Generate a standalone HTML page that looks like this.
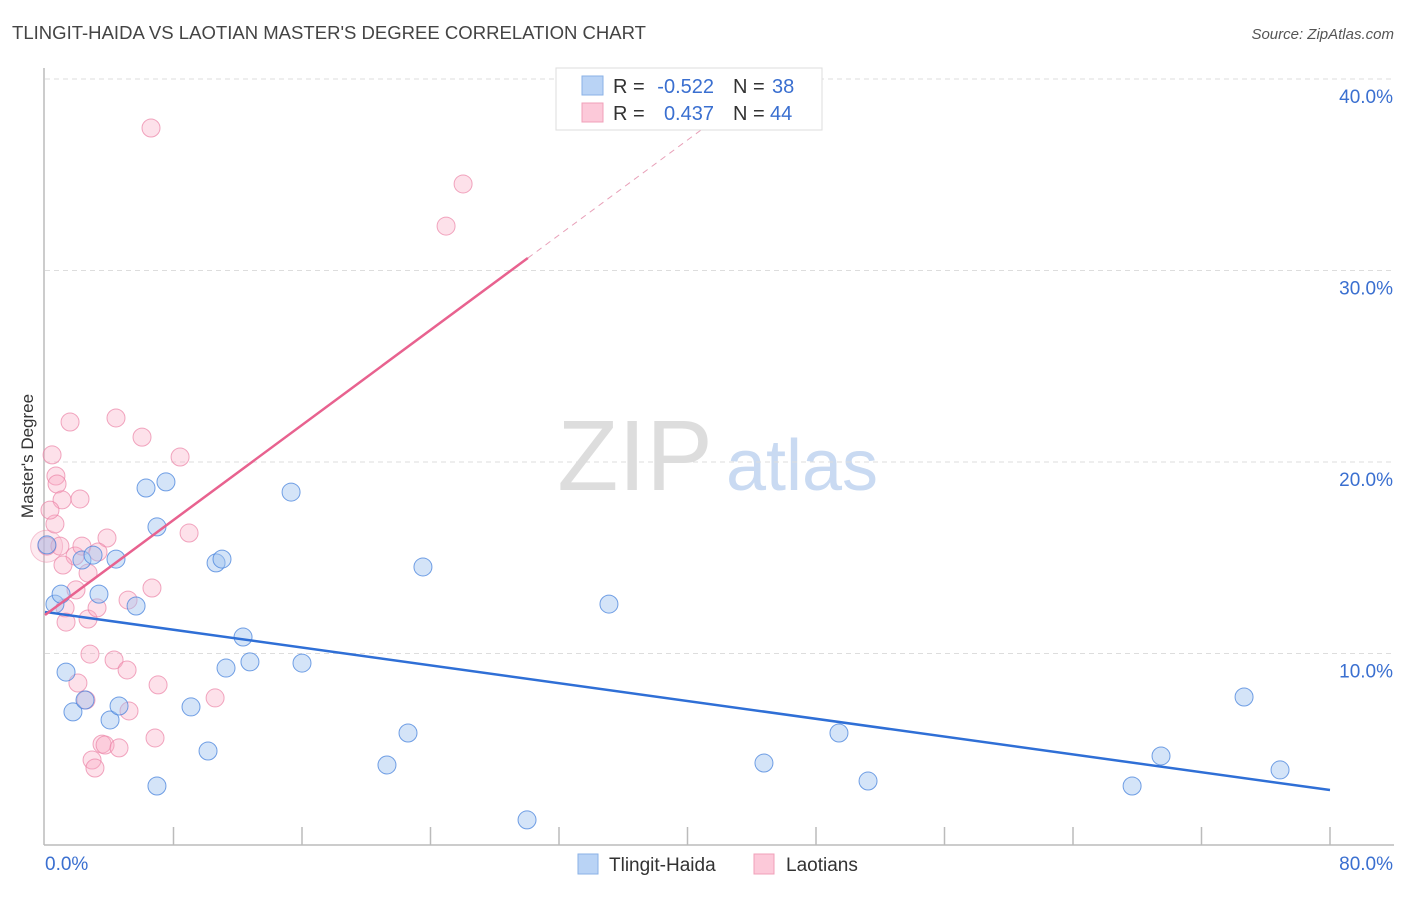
<!DOCTYPE html>
<html><head><meta charset="utf-8"><style>
body{margin:0;background:#fff;font-family:"Liberation Sans",sans-serif}
svg text{font-family:"Liberation Sans",sans-serif}
</style></head><body>
<svg id="c" width="1406" height="892" xmlns="http://www.w3.org/2000/svg">
<text x="12" y="39" font-size="18.5" fill="#444" textLength="634" lengthAdjust="spacingAndGlyphs">TLINGIT-HAIDA VS LAOTIAN MASTER'S DEGREE CORRELATION CHART</text>
<text x="1394" y="39" font-size="15" fill="#555" text-anchor="end" font-style="italic">Source: ZipAtlas.com</text>
<text transform="translate(33,456) rotate(-90)" font-size="17" fill="#333" text-anchor="middle">Master's Degree</text>
<g><text x="635" y="490" font-size="100" fill="#ddd" text-anchor="middle" font-family="Liberation Serif">ZIP</text><text x="802" y="490" font-size="72" fill="#c9daf2" text-anchor="middle">atlas</text></g>
<g id="grid"></g><g id="axes"></g><g id="marks"></g>
<g>
<rect x="556" y="68" width="266" height="62" fill="#fff" stroke="#ddd"/>
<rect x="582" y="76" width="21" height="19" fill="#b9d3f5" stroke="#8ab1e6"/>
<rect x="582" y="103" width="21" height="19" fill="#fcc9d9" stroke="#f0a0b9"/>
<text x="613" y="93" font-size="20" fill="#333">R =</text>
<text x="714" y="93" font-size="20" fill="#3a6fd0" text-anchor="end">-0.522</text>
<text x="733" y="93" font-size="20" fill="#333">N =</text>
<text x="772" y="93" font-size="20" fill="#3a6fd0">38</text>
<text x="613" y="120" font-size="20" fill="#333">R =</text>
<text x="714" y="120" font-size="20" fill="#3a6fd0" text-anchor="end">0.437</text>
<text x="733" y="120" font-size="20" fill="#333">N =</text>
<text x="770" y="120" font-size="20" fill="#3a6fd0">44</text>
</g>
<g>
<rect x="578" y="854" width="20" height="20" fill="#b9d3f5" stroke="#8ab1e6"/>
<text x="609" y="871" font-size="19" fill="#333">Tlingit-Haida</text>
<rect x="754" y="854" width="20" height="20" fill="#fcc9d9" stroke="#f0a0b9"/>
<text x="786" y="871" font-size="19" fill="#333">Laotians</text>
</g>
</svg>
<script>
const blueX=[0.12,0.62,1.0,1.31,1.74,2.30,2.49,2.99,3.36,4.05,4.42,4.61,5.67,6.29,6.97,6.97,7.53,9.09,10.15,10.65,11.02,11.27,12.33,12.76,15.32,16.0,21.29,22.6,23.53,30.01,35.11,44.76,49.43,51.24,67.68,69.48,74.65,76.89];
const blueY=[15.67,12.58,13.1,9.03,6.95,14.88,7.57,15.14,13.1,6.53,14.93,7.26,12.48,18.64,16.61,3.08,18.96,7.21,4.91,14.73,14.93,9.24,10.86,9.56,18.43,9.5,4.18,5.85,14.52,1.31,12.58,4.28,5.85,3.34,3.08,4.65,7.73,3.92];
const pinkX=[0.44,0.68,0.75,0.62,0.12,1.06,0.93,1.25,1.31,1.56,1.87,1.93,2.18,2.30,2.55,2.68,2.68,2.80,2.93,3.11,3.24,3.55,3.74,3.86,4.30,4.42,4.61,5.11,5.17,5.23,6.04,6.60,6.66,6.85,7.04,8.41,8.97,10.59,24.97,26.03,2.05,1.12,0.31,3.30];
const pinkY=[20.37,19.27,18.85,16.76,15.61,18.02,15.61,12.38,11.64,22.09,15.09,13.32,18.07,15.61,7.57,14.2,11.8,9.97,4.44,4.02,12.38,5.27,5.22,16.03,9.66,22.3,5.07,9.14,12.79,7.0,21.3,37.44,13.42,5.59,8.36,20.26,16.29,7.68,32.32,34.52,8.46,14.62,17.49,15.3];
const blueTrend=[0,12.17,80,2.87];
const pinkTrend=[0,12.01,30.06,30.65,45.1];
const yTicks=[10,20,30,40];
const yTickLabels=["10.0%","20.0%","30.0%","40.0%"];
const xTicks=[8,16,24,32,40,48,56,64,72,80];
const NS="http://www.w3.org/2000/svg";
const X=v=>45+v/80*1285, Y=v=>845-v*19.15;
function mk(t,a,p){const e=document.createElementNS(NS,t);for(const k in a)e.setAttribute(k,a[k]);document.getElementById(p).appendChild(e);return e;}
yTicks.forEach((t,i)=>{
 const g=mk('line',{x1:45,x2:1394,y1:Y(t),y2:Y(t),stroke:'#ddd','stroke-dasharray':'5,4'},'grid');
 
 
 const l=mk('text',{x:1393,y:Y(t)+24,'font-size':19,fill:'#3a6fd0','text-anchor':'end'},'axes');l.textContent=yTickLabels[i];
 
 
});
let ax=mk('line',{x1:44,x2:44,y1:68,y2:845,stroke:'#bbb','stroke-width':1.5},'axes');


ax=mk('line',{x1:44,x2:1394,y1:845,y2:845,stroke:'#bbb','stroke-width':1.5},'axes');


xTicks.forEach(t=>{const k=mk('line',{x1:X(t),x2:X(t),y1:827,y2:845,stroke:'#bbb','stroke-width':1.5},'axes');
 
 });
let tl=mk('text',{x:45,y:870,'font-size':19,fill:'#3a6fd0'},'axes');tl.textContent='0.0%';


tl=mk('text',{x:1393,y:870,'font-size':19,fill:'#3a6fd0','text-anchor':'end'},'axes');tl.textContent='80.0%';


let big=mk('circle',{cx:X(0.1),cy:Y(15.6),r:16,fill:'rgba(248,170,195,0.25)',stroke:'rgba(235,140,170,0.5)'},'marks');


pinkX.forEach((v,i)=>{const c=mk('circle',{cx:X(v),cy:Y(pinkY[i]),r:9,fill:'rgba(248,170,195,0.35)',stroke:'rgba(235,130,165,0.7)'},'marks');
 
 });
blueX.forEach((v,i)=>{const c=mk('circle',{cx:X(v),cy:Y(blueY[i]),r:9,fill:'rgba(160,195,240,0.45)',stroke:'rgba(70,130,220,0.75)'},'marks');
 
 });
let tr=mk('line',{x1:X(blueTrend[0]),y1:Y(blueTrend[1]),x2:X(blueTrend[2]),y2:Y(blueTrend[3]),stroke:'#2f6fd6','stroke-width':2.5},'marks');


tr=mk('line',{x1:X(pinkTrend[0]),y1:Y(pinkTrend[1]),x2:X(pinkTrend[2]),y2:Y(pinkTrend[3]),stroke:'#e8628f','stroke-width':2.5},'marks');


const slope=(pinkTrend[3]-pinkTrend[1])/(pinkTrend[2]-pinkTrend[0]);
tr=mk('line',{x1:X(pinkTrend[2]),y1:Y(pinkTrend[3]),x2:X(pinkTrend[4]),y2:Y(pinkTrend[1]+slope*pinkTrend[4]),stroke:'#e8a0b8','stroke-width':1,'stroke-dasharray':'6,5'},'marks');


</script>
</body></html>
